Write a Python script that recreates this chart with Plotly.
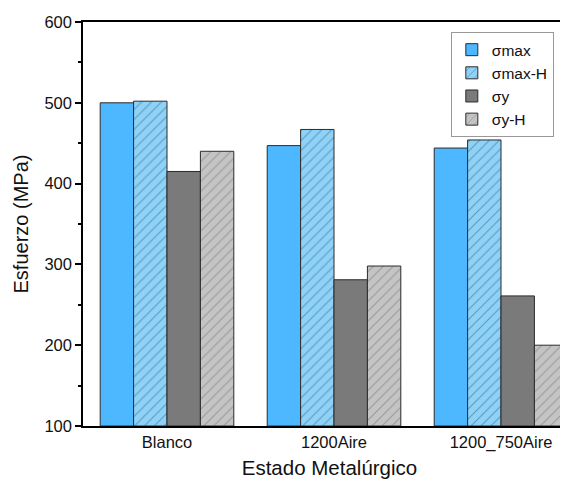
import plotly.graph_objects as go

categories = ["Blanco", "1200Aire", "1200_750Aire"]
series_names = ["σmax", "σmax-H", "σy", "σy-H"]
smax = [500, 447, 444]
smax_h = [502, 467, 454]
sy = [415, 281, 261]
sy_h = [440, 298, 200]
values = [smax, smax_h, sy, sy_h]

colors = ["#4db8ff", "#8fd2f7", "#7a7a7a", "#c4c4c4"]
patterns = ["", "/", "", "/"]
fgcolors = [None, "#2a5f80", None, "#6e6e6e"]

fig = go.Figure()
for name, vals, col, pat, fg in zip(series_names, values, colors, patterns, fgcolors):
    marker = dict(color=col, line=dict(color="#2b2b2b", width=1))
    if pat:
        marker["pattern"] = dict(shape=pat, fillmode="overlay", fgcolor=fg,
                                 size=7, solidity=0.15)
    fig.add_trace(go.Bar(x=categories, y=[v - 100 for v in vals], base=100,
                         name=name, marker=marker))

fig.update_layout(
    width=568, height=479,
    margin=dict(l=75, r=0, t=14, b=61),
    paper_bgcolor="white", plot_bgcolor="white",
    barmode="group", bargap=0.2, bargroupgap=0,
    font=dict(family="Liberation Sans, Arial, sans-serif", size=16, color="#111"),
    showlegend=True,
    legend=dict(x=0.955, y=0.975, xanchor="right", yanchor="top",
                bordercolor="#999", borderwidth=1, bgcolor="white",
                font=dict(size=15.5), tracegroupgap=0, itemwidth=30),
)
fig.update_xaxes(
    range=[-0.503, 2.449],
    showline=True, linecolor="black", linewidth=1.5, mirror=True,
    ticks="", tickfont=dict(size=16.5),
    title=dict(text="Estado Metalúrgico", font=dict(size=20.5), standoff=10),
)
fig.update_yaxes(
    range=[100, 600], dtick=100,
    showline=True, linecolor="black", linewidth=1.5, mirror=False,
    showgrid=False, zeroline=False,
    ticks="outside", ticklen=6, tickwidth=1.5, tickcolor="black",
    minor=dict(dtick=50, ticks="outside", ticklen=3, tickwidth=1.5, tickcolor="black", showgrid=False),
    tickfont=dict(size=16.5),
    title=dict(text="Esfuerzo (MPa)", font=dict(size=20), standoff=10),
)

fig.write_html("out.html")
